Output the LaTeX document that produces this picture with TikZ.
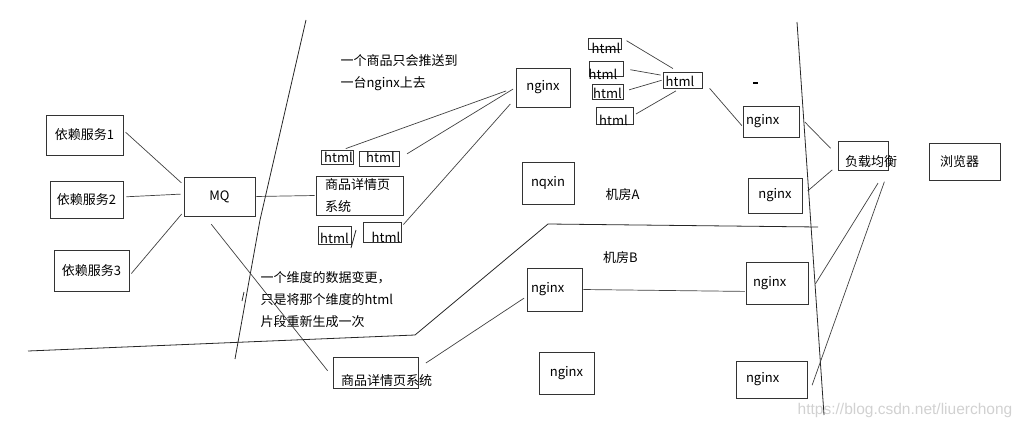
\documentclass[tikz,border=0pt]{standalone}
\usepackage{fontspec}
\setmainfont{Noto Sans CJK SC}
\newfontfamily\markfont{Liberation Sans}
\begin{document}
\begin{tikzpicture}
    [x=1pt, y=-1pt, font=\fontsize{13}{22}\selectfont,
    box/.style={draw=black!80, line width=0.8pt, inner sep=0pt},
    frag/.style={draw=black!80, line width=0.8pt, inner sep=0pt,
        label={[shift={#1}]center:html}},
    frag/.default={(0,0)},
    link/.style={draw=black!75, line width=0.7pt, shorten <=3pt, shorten >=3pt},
    cut/.style={draw=black!85, line width=0.8pt}]
    \useasboundingbox (0,0) rectangle (1022,428);

    % left side
    \node[box, minimum width=77, minimum height=40] (dep1) at (84.5,135) {依赖服务1};
    \node[box, minimum width=73, minimum height=37] (dep2) at (86.5,199.5) {依赖服务2};
    \node[box, minimum width=75, minimum height=41] (dep3) at (91.5,270.5) {依赖服务3};
    \node[box, minimum width=71, minimum height=39] (mq) at (219.5,196.5) {MQ};
    \node[box, minimum width=87, minimum height=39, text width=69, align=left]
        (detailTop) at (359.5,195.5) {商品详情页\\系统};
    \node[box, minimum width=85, minimum height=31, text width=69, align=left,
        text height=26pt, text depth=0pt] (detailBottom) at (375.5,372.5) {商品详情页系统};

    \node[frag={(1.5,0)}, minimum width=32, minimum height=14] (html1) at (337,157) {};
    \node[frag={(1.5,-1.5)}, minimum width=40, minimum height=15] (html2) at (379,158.5) {};
    \node[frag={(0,3.5)}, minimum width=33, minimum height=18] (html3) at (334.5,235) {};
    \node[frag={(4,5.5)}, minimum width=38, minimum height=20] (html4) at (382,232) {};

    \node[anchor=west, align=left] (pushNote) at (337,73) {一个商品只会推送到\\一台nginx上去};
    \node[anchor=west, align=left] (dimNote) at (257,299.5)
        {一个维度的数据变更，\\只是将那个维度的html\\片段重新生成一次};

    % room A
    \node[box, minimum width=54, minimum height=39] (nginxTop) at (543,87.5) {nginx};
    \node[box, minimum width=52, minimum height=42] (nqxin) at (548,183) {nqxin};
    \node (roomA) at (622.5,195) {机房A};

    \node[frag={(1.5,4.5)}, minimum width=33, minimum height=11] (htmlA) at (604.5,43.5) {};
    \node[frag={(-3,6)}, minimum width=34, minimum height=15] (htmlB) at (606,68.5) {};
    \node[frag={(0,1.5)}, minimum width=31, minimum height=15] (htmlC) at (607.5,91.5) {};
    \node[frag={(-1,4.5)}, minimum width=37, minimum height=17] (htmlD) at (614.5,115.5) {};
    \node[frag={(-2.5,1.5)}, minimum width=39, minimum height=16] (htmlMid) at (682.5,80) {};

    \node[box, minimum width=56, minimum height=31, text width=50, align=left]
        (nginxA1) at (771,121.5) {nginx};
    \node[box, minimum width=54, minimum height=35] (nginxA2) at (775,195.5) {nginx};

    % room B
    \node (roomB) at (620.5,258) {机房B};
    \node[box, minimum width=55, minimum height=43, text width=47, align=left]
        (nginxB1) at (554.5,289.5) {nginx};
    \node[box, minimum width=55, minimum height=42] (nginxB3) at (566.5,373) {nginx};
    \node[box, minimum width=62, minimum height=42, text width=48, align=left]
        (nginxB2) at (777,283) {nginx};
    \node[box, minimum width=71, minimum height=37, text width=51, align=left]
        (nginxB4) at (771.5,379.5) {nginx};

    % right side
    \node[box, minimum width=50, minimum height=29, text width=36, align=left,
        text height=21pt, text depth=0pt] (balance) at (863,155.5) {负载均衡};
    \node[box, minimum width=71, minimum height=37, text width=49, align=left]
        (browser) at (964.5,161.5) {浏览器};

    \node[font=\markfont\fontsize{15.5}{18}\selectfont, text=black!18]
        (mark) at (905,410) {https://blog.csdn.net/liuerchong};

    % dividers
    \draw[cut] (306,20) -- (260,220) -- (235,359);
    \draw[cut] (242,301) -- (244,292);
    \draw[cut] (28,351) -- (415,335) -- (548,224) -- (818,227);
    \draw[cut] (797,22) -- (824,415);
    \draw[cut] (351,248) -- (356,230);
    \draw[line width=2pt] (753,83) -- (758,83);

    % connectors
    \draw[link] (dep1.7) -- (mq.162);
    \draw[link] (dep2.4) -- (mq.176);
    \draw[link] (dep3.-8) -- (mq.203);
    \draw[link, shorten <=1pt, shorten >=1pt] (mq.east) -- (detailTop.west);
    \draw[link, shorten <=10pt, shorten >=8pt] (mq.234) -- (detailBottom.186);
    \draw[link, shorten >=10pt] (html1.51) -- (nginxTop.west);
    \draw[link, shorten <=9pt] (html2.east) -- (nginxTop.west);
    \draw[link, shorten >=8pt] (html4.15) -- (nginxTop.201);
    \draw[link, shorten <=6pt, shorten >=6pt] (htmlA.north east) -- (htmlMid.118);
    \draw[link, shorten <=7pt, shorten >=2pt] (htmlB.east) -- (htmlMid.167);
    \draw[link, shorten <=6pt, shorten >=1pt] (htmlC.east) -- (htmlMid.west);
    \draw[link, shorten >=5pt] (htmlD.east) -- (htmlMid.255);
    \draw[link, shorten <=11pt, shorten >=1pt] (htmlMid.east) -- (nginxA1.190);
    \draw[link, shorten <=8pt, shorten >=10pt] (nginxA1.10) -- (balance.west);
    \draw[link, shorten <=7pt, shorten >=7pt] (nginxA2.east) -- (balance.201);
    \draw[link, shorten <=15pt, shorten >=13pt] (balance.-33) -- (nginxB2.-21);
    \draw[link, shorten <=12pt, shorten >=14pt] (balance.south east) -- (nginxB4.south east);
    \draw[link, shorten <=1pt, shorten >=1pt] (nginxB1.east) -- (nginxB2.195);
    \draw[link, shorten <=9pt] (detailBottom.6) -- (nginxB1.194);
\end{tikzpicture}
\end{document}
